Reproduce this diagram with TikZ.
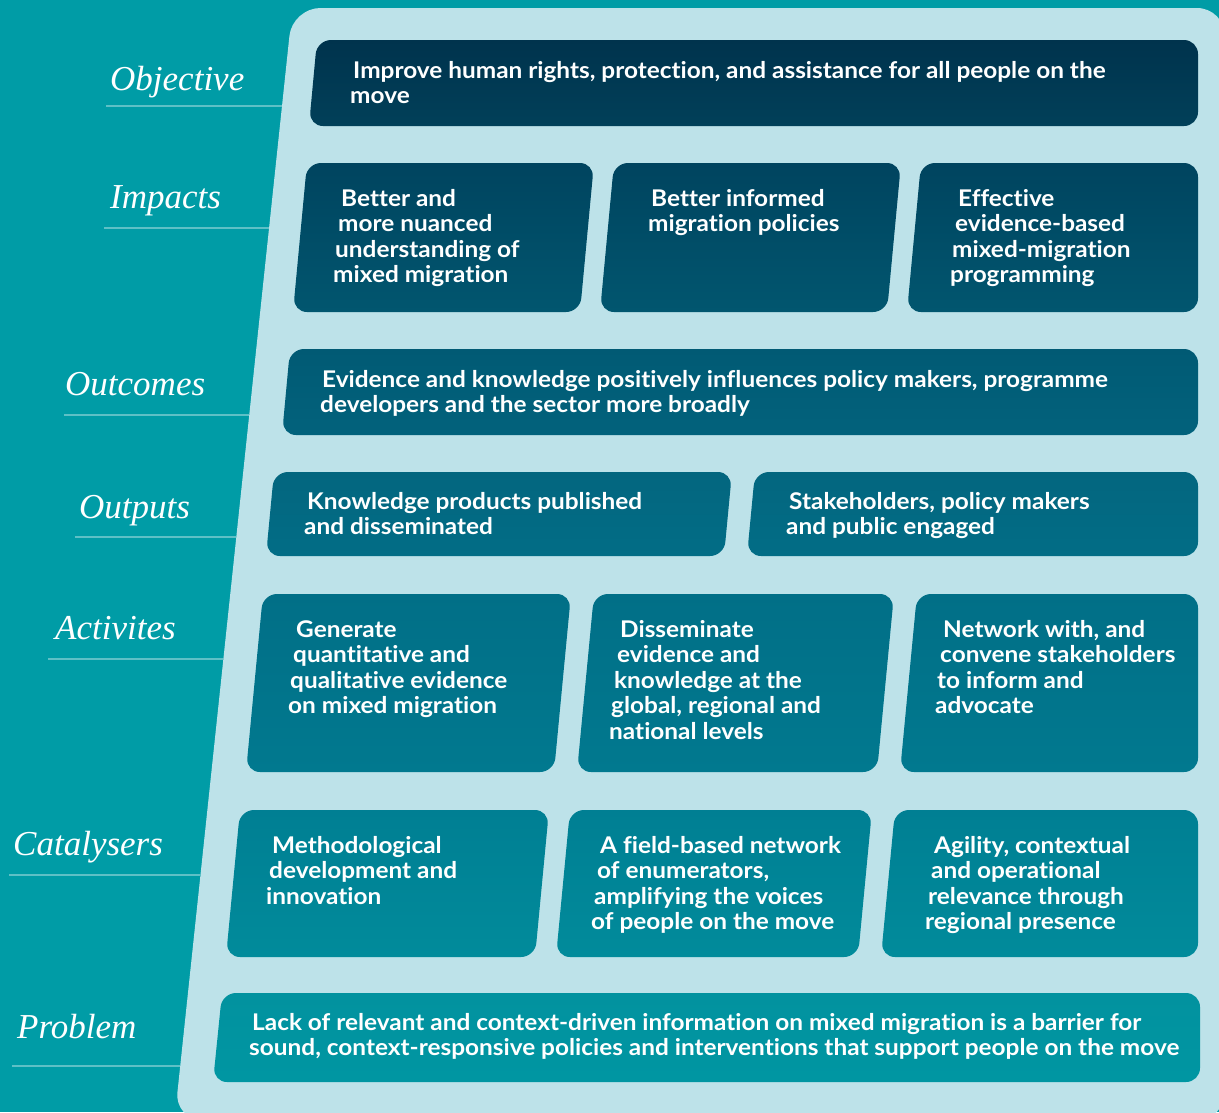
\documentclass[tikz,border=0pt]{standalone}
\usepackage{fontspec}
\newfontfamily\boxfont{Lato}[FakeStretch=1.06, Ligatures=NoCommon]
\newfontfamily\labfont{Liberation Serif}
\definecolor{bgteal}{HTML}{009CA6}
\definecolor{panel}{HTML}{BDE2E9}
\definecolor{labline}{HTML}{5EC0C6}
\definecolor{objT}{HTML}{00334D}\definecolor{objB}{HTML}{014059}
\definecolor{impT}{HTML}{00445F}\definecolor{impB}{HTML}{01566F}
\definecolor{oucT}{HTML}{015A74}\definecolor{oucB}{HTML}{02627C}
\definecolor{outT}{HTML}{03667F}\definecolor{outB}{HTML}{026D86}
\definecolor{actT}{HTML}{016F87}\definecolor{actB}{HTML}{01798F}
\definecolor{catT}{HTML}{007F93}\definecolor{catB}{HTML}{018B9B}
\definecolor{prbT}{HTML}{02929F}\definecolor{prbB}{HTML}{0096A2}
\newcommand\slbox[6]{\shade[rounded corners=14pt, top color=#5, bottom color=#6] (#1) -- (#2) -- (#3) -- (#4) -- cycle;}
\newcommand\fl{\rule{0pt}{18pt}}
\begin{document}
\begin{tikzpicture}[x=1pt,y=-1pt,
  txt/.style={anchor=north west, inner sep=0pt, align=left, text=white,
    font=\boxfont\bfseries\fontsize{23}{25.5}\selectfont},
  lab/.style={anchor=base west, inner sep=0pt, text=white,
    font=\labfont\itshape\fontsize{35}{40}\selectfont},
  rule/.style={draw=labline, line width=2.5pt}]
\useasboundingbox (0,0) rectangle (1219,1112);
\clip (0,0) rectangle (1219,1112);
\fill[bgteal] (0,0) rectangle (1219,1112);
\fill[panel, rounded corners=28pt] (1225,8) -- (292.4,8) -- (174.5,1120) -- (1225,1120) -- cycle;

% labels and rules
\node[lab] (lObj) at (110,90) {Objective};
\draw[rule] (106,106) -- (282.1,106);
\node[lab] (lImp) at (110,208) {Impacts};
\draw[rule] (104,228) -- (269.1,228);
\node[lab] (lOuc) at (65,395) {Outcomes};
\draw[rule] (64,415) -- (249.3,415);
\node[lab] (lOut) at (79,518) {Outputs};
\draw[rule] (75,537) -- (236.4,537);
\node[lab] (lAct) at (55,639) {Activites};
\draw[rule] (48,659) -- (223.4,659);
\node[lab] (lCat) at (13,855) {Catalysers};
\draw[rule] (9,875) -- (200.6,875);
\node[lab] (lPrb) at (17,1038) {Problem};
\draw[rule] (12,1066) -- (180.3,1066);

% boxes
\slbox{317,40}{1198,40}{1198,126}{309,126}{objT}{objB}
\slbox{307,163}{594,163}{580,312}{293,312}{impT}{impB}
\slbox{614,163}{901,163}{887,312}{600,312}{impT}{impB}
\slbox{921,163}{1198,163}{1198,312}{907,312}{impT}{impB}
\slbox{290,349}{1198,349}{1198,435}{282,435}{oucT}{oucB}
\slbox{274,472}{732,472}{724,556}{266,556}{outT}{outB}
\slbox{755,472}{1198,472}{1198,556}{747,556}{outT}{outB}
\slbox{263,594}{571,594}{554,772}{246,772}{actT}{actB}
\slbox{594,594}{894,594}{877,772}{577,772}{actT}{actB}
\slbox{917,594}{1198,594}{1198,772}{900,772}{actT}{actB}
\slbox{240,810}{549,810}{535,957}{226,957}{catT}{catB}
\slbox{570,810}{872,810}{858,957}{556,957}{catT}{catB}
\slbox{895,810}{1198,810}{1198,957}{881,957}{catT}{catB}
\slbox{222,993}{1200,993}{1200,1082}{213,1082}{prbT}{prbB}

% texts
\node[txt] (tObj) at (350,60) {\fl\hspace*{3pt}Improve human rights, protection, and assistance for all people on the\\move};
\node[txt] (tImp1) at (333,188) {\fl\hspace*{8pt}Better and\\\hspace*{5pt}more nuanced\\\hspace*{2pt}understanding of\\mixed migration};
\node[txt] (tImp2) at (648,188) {\fl\hspace*{3pt}Better informed\\migration policies};
\node[txt] (tImp3) at (950,188) {\fl\hspace*{8pt}Effective\\\hspace*{5pt}evidence-based\\\hspace*{2pt}mixed-migration\\programming};
\node[txt] (tOuc) at (320,369) {\fl\hspace*{2pt}Evidence and knowledge positively influences policy makers, programme\\developers and the sector more broadly};
\node[txt] (tOut1) at (304,491) {\fl\hspace*{3pt}Knowledge products published\\and disseminated};
\node[txt] (tOut2) at (786,491) {\fl\hspace*{3pt}Stakeholders, policy makers\\and public engaged};
\node[txt] (tAct1) at (288,619) {\fl\hspace*{8pt}Generate\\\hspace*{5pt}quantitative and\\\hspace*{2pt}qualitative evidence\\on mixed migration};
\node[txt] (tAct2) at (609,619) {\fl\hspace*{11pt}Disseminate\\\hspace*{8pt}evidence and\\\hspace*{5pt}knowledge at the\\\hspace*{2pt}global, regional and\\national levels};
\node[txt] (tAct3) at (935,619) {\fl\hspace*{8pt}Network with, and\\\hspace*{5pt}convene stakeholders\\\hspace*{2pt}to inform and\\advocate};
\node[txt] (tCat1) at (266,835) {\fl\hspace*{6pt}Methodological\\\hspace*{3pt}development and\\innovation};
\node[txt] (tCat2) at (591,835) {\fl\hspace*{9pt}A field-based network\\\hspace*{6pt}of enumerators,\\\hspace*{3pt}amplifying the voices\\of people on the move};
\node[txt] (tCat3) at (925,835) {\fl\hspace*{9pt}Agility, contextual\\\hspace*{6pt}and operational\\\hspace*{3pt}relevance through\\regional presence};
\node[txt] (tPrb) at (249,1012) {\fl\hspace*{3pt}Lack of relevant and context-driven information on mixed migration is a barrier for\\sound, context-responsive policies and interventions that support people on the move};
\end{tikzpicture}
\end{document}
